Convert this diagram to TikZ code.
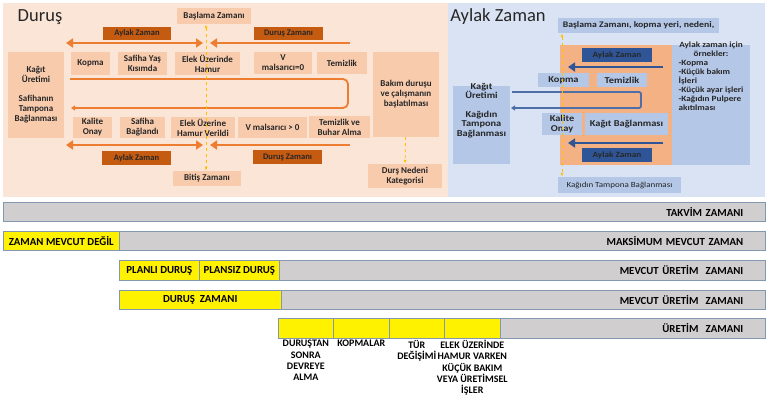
\documentclass[tikz,border=0pt]{standalone}
\usepackage{fontspec}
\setmainfont{Carlito}
\newfontfamily\genis[FakeStretch=1.15]{Carlito}
\usetikzlibrary{arrows.meta,positioning}
\definecolor{durusbg}{HTML}{FBE5D6}
\definecolor{durusbox}{HTML}{F8CBAD}
\definecolor{durustag}{HTML}{C55A11}
\definecolor{durusok}{HTML}{ED7D31}
\definecolor{aylakbg}{HTML}{DAE3F3}
\definecolor{aylakbox}{HTML}{B4C7E7}
\definecolor{aylaktag}{HTML}{2F5597}
\definecolor{aylakblok}{HTML}{F4B183}
\definecolor{sari}{HTML}{FFC000}
\definecolor{bargri}{HTML}{D0CECE}
\definecolor{barcizgi}{HTML}{8497B0}
\definecolor{yazi}{HTML}{262626}

\tikzset{
  kutu/.style={fill=durusbox, align=center, inner sep=1pt, text=yazi,
    font=\bfseries\fontsize{9}{10}\selectfont},
  mkutu/.style={kutu, fill=aylakbox, font=\genis\bfseries\fontsize{9}{10}\selectfont},
  etiket/.style={fill=durustag, text=yazi, inner sep=0pt,
    font=\bfseries\fontsize{8.5}{10}\selectfont},
  metiket/.style={etiket, fill=aylaktag, font=\genis\bfseries\fontsize{8}{10}\selectfont},
  ok/.style={draw=durusok, line width=2.5pt, -{Triangle[length=7pt,width=9pt]}},
  ciftok/.style={ok, {Triangle[length=7pt,width=9pt]}-{Triangle[length=7pt,width=9pt]}},
  mok/.style={ok, draw=aylaktag},
  dongu/.style={draw=durusok, line width=1.8pt, rounded corners=5pt,
    -{Triangle[length=4pt,width=5pt]}},
  mdongu/.style={dongu, draw=aylaktag!85!white, rounded corners=2pt},
  sarikesik/.style={draw=sari, dashed, line width=0.8pt,
    {Latex[length=4pt]}-{Latex[length=4pt]}},
  cubuk/.style={draw=barcizgi, fill=bargri, line width=0.6pt, anchor=west,
    minimum height=19.5pt, inner sep=0pt, align=right,
    font=\bfseries\fontsize{10.8}{12}\selectfont},
  scubuk/.style={cubuk, fill=yellow, align=center},
  altyazi/.style={align=center, inner sep=0pt,
    font=\bfseries\fontsize{10}{11.2}\selectfont}
}

\begin{document}
\begin{tikzpicture}[x=1pt,y=-1pt]
  \useasboundingbox (0,0) rectangle (770,400);
  \fill[durusbg] (3,3) rectangle (448,197);
  \fill[aylakbg] (448,3) rectangle (765,197);

  % Durus
  \node[font=\fontsize{18.5}{20}\selectfont, text=yazi] (tdurus) at (40,17) {Duruş};
  \node[kutu, minimum width=74, minimum height=16] (basla) at (214,16) {Başlama Zamanı};
  \node[etiket, minimum width=68, minimum height=13] (aylak1) at (137,33.5) {Aylak Zaman};
  \node[etiket, minimum width=69, minimum height=13] (durus1) at (288.5,33.5) {Duruş Zamanı};
  \node[kutu, minimum width=56, minimum height=86] (kagit) at (36,95)
    {Kağıt\\Üretimi\\[9pt]Safihanın\\Tampona\\Bağlanması};
  \node[kutu, minimum width=39, minimum height=23] (kopma) at (90.5,63.5) {Kopma};
  \node[kutu, minimum width=49, minimum height=23] (yas) at (142.5,63.5) {Safiha Yaş\\Kısımda};
  \node[kutu, minimum width=65, minimum height=23] (elek) at (207.5,63.5) {Elek Üzerinde\\Hamur};
  \node[kutu, minimum width=58, minimum height=22] (vsifir) at (283,63) {V\\malsarıcı=0};
  \node[kutu, minimum width=50, minimum height=22] (temiz) at (342,63) {Temizlik};
  \node[kutu, minimum width=66, minimum height=85] (bakim) at (406,94.5)
    {Bakım duruşu\\ve çalışmanın\\başlatılması};
  \node[kutu, minimum width=39, minimum height=21] (kalite) at (92.5,127.5) {Kalite\\Onay};
  \node[kutu, minimum width=45, minimum height=21] (baglandi) at (142.5,127.5) {Safiha\\Bağlandı};
  \node[kutu, minimum width=64, minimum height=21] (verildi) at (203,127.5) {Elek Üzerine\\Hamur Verildi};
  \node[kutu, minimum width=69, minimum height=21] (vbuyuk) at (272.5,127.5) {V malsarıcı > 0};
  \node[kutu, minimum width=61, minimum height=22] (buhar) at (339.5,127) {Temizlik ve\\Buhar Alma};
  \node[etiket, minimum width=69, minimum height=14] (aylak2) at (136.5,158) {Aylak Zaman};
  \node[etiket, minimum width=69, minimum height=14] (durus2) at (287.5,157) {Duruş Zamanı};
  \node[kutu, minimum width=68, minimum height=15] (bitis) at (207,178.5) {Bitiş Zamanı};
  \node[kutu, minimum width=74, minimum height=24] (neden) at (405,176) {Durş Nedeni\\Kategorisi};

  \foreach \y/\n in {43/u,145/a} {
    \coordinate (sol\n) at (66,\y); \coordinate (orta\n) at (203,\y);
    \coordinate (sag\n) at (350,\y); \coordinate (ic\n) at (210,\y);
    \draw[ciftok] (sol\n) -- (orta\n);
    \draw[ok] (sag\n) -- (ic\n);
  }
  \coordinate (dbas) at (70,79); \coordinate (dson) at (71,108);
  \coordinate (ddon) at (348,94);
  \draw[dongu] (dbas) -| (ddon) |- (dson);
  \coordinate (dcizgi) at (206,100);
  \draw[sarikesik] (basla.south -| dcizgi) -- (bitis.north -| dcizgi);
  \draw[sarikesik, -{Latex[length=4pt]}] (bakim) -- (neden);

  % Aylak zaman
  \node[font=\fontsize{18.5}{20}\selectfont, text=yazi] (taylak) at (498,17) {Aylak Zaman};
  \node[mkutu, font=\genis\bfseries\fontsize{8.5}{10}\selectfont, minimum width=161,
    minimum height=15] (mbasla) at (638.5,25.5) {Başlama Zamanı, kopma yeri, nedeni,};
  \node[fill=aylakblok, minimum width=112, minimum height=120, inner sep=0pt] (blok) at (616,105) {};
  \node[mkutu, minimum width=78, minimum height=120] (ornek) at (711,105) {};
  \node[anchor=north, inner sep=0pt, text=yazi, font=\genis\bfseries\fontsize{8}{9}\selectfont]
    at ([yshift=4pt]ornek.north) {\begin{tabular}{@{}l@{}}
      \multicolumn{1}{@{}c@{}}{Aylak zaman için}\\
      \multicolumn{1}{@{}c@{}}{örnekler:}\\
      -Kopma\\-Küçük bakım\\İşleri\\-Küçük ayar işleri\\-Kağıdın Pulpere\\akıtılması
    \end{tabular}};
  \node[metiket, minimum width=70, minimum height=14] (maylak1) at (617,55) {Aylak Zaman};
  \node[mkutu, minimum width=51, minimum height=14] (mkopma) at (563.5,80) {Kopma};
  \node[mkutu, minimum width=50, minimum height=14] (mtemiz) at (622,80) {Temizlik};
  \node[mkutu, minimum width=57, minimum height=78] (mkagit) at (481.5,125) {};
  \node[anchor=north, align=center, inner sep=0pt, text=yazi,
    font=\genis\bfseries\fontsize{9}{9.5}\selectfont] at ([yshift=3pt]mkagit.north)
    {Kağıt\\Üretimi\\[9pt]Kağıdın\\Tampona\\Bağlanması};
  \node[mkutu, minimum width=40, minimum height=22] (mkalite) at (562,124) {Kalite\\Onay};
  \node[mkutu, minimum width=83, minimum height=22] (mbag) at (626.5,124) {Kağıt Bağlanması};
  \node[metiket, minimum width=70, minimum height=14] (maylak2) at (617,155) {Aylak Zaman};
  \node[mkutu, font=\genis\fontsize{7.8}{9}\selectfont, minimum width=123, minimum height=16]
    (mtampon) at (619.5,185) {Kağıdın Tampona Bağlanması};

  \foreach \y/\n in {67/u,143/a} {
    \coordinate (msag\n) at (663,\y); \coordinate (msol\n) at (568,\y);
    \draw[mok] (msag\n) -- (msol\n);
  }
  \coordinate (mbas) at (512,92); \coordinate (mson) at (511,108);
  \coordinate (mdon) at (641,100);
  \draw[mdongu] (mbas) -| (mdon) |- (mson);
  \coordinate (mcizgi) at (562,100);
  \draw[sarikesik] (mbasla.south -| mcizgi) -- (mtampon.north -| mcizgi);

  % zaman cubuklari
  \node[cubuk, minimum width=762, text width=718] (takvim) at (3,212) {TAKVİM ZAMANI};
  \node[scubuk, minimum width=116] (yok) at (3,241) {ZAMAN MEVCUT DEĞİL};
  \node[cubuk, minimum width=646, text width=602] (maks) at (119,241) {MAKSİMUM MEVCUT ZAMAN};
  \node[scubuk, minimum width=80] (planli) at (119,270.5) {PLANLI DURUŞ};
  \node[scubuk, minimum width=80] (plansiz) at (199,270.5) {PLANSIZ DURUŞ};
  \node[cubuk, minimum width=486, text width=442] (mevcut1) at (279,270.5) {MEVCUT ÜRETİM~~ZAMANI};
  \node[scubuk, minimum width=162] (durzam) at (119,300) {DURUŞ~~ZAMANI};
  \node[cubuk, minimum width=484, text width=440] (mevcut2) at (281,300) {MEVCUT ÜRETİM~~ZAMANI};
  \node[scubuk, minimum width=55] (devreye) at (278,328.5) {};
  \node[scubuk, minimum width=56] (kopmalar) at (333,328.5) {};
  \node[scubuk, minimum width=55] (tur) at (389,328.5) {};
  \node[scubuk, minimum width=56] (kucuk) at (444,328.5) {};
  \node[cubuk, minimum width=265, text width=221] (uretim) at (500,328.5) {ÜRETİM~~ZAMANI};

  \node[altyazi, below=1.5pt of devreye] {DURUŞTAN\\SONRA\\DEVREYE\\ALMA};
  \node[altyazi, below=1.5pt of kopmalar] {KOPMALAR};
  \node[altyazi, below=1.5pt of tur] {TÜR\\DEĞİŞİMİ};
  \node[altyazi, below=1.5pt of kucuk] {ELEK ÜZERİNDE\\HAMUR VARKEN\\KÜÇÜK BAKIM\\VEYA ÜRETİMSEL\\İŞLER};
\end{tikzpicture}
\end{document}
